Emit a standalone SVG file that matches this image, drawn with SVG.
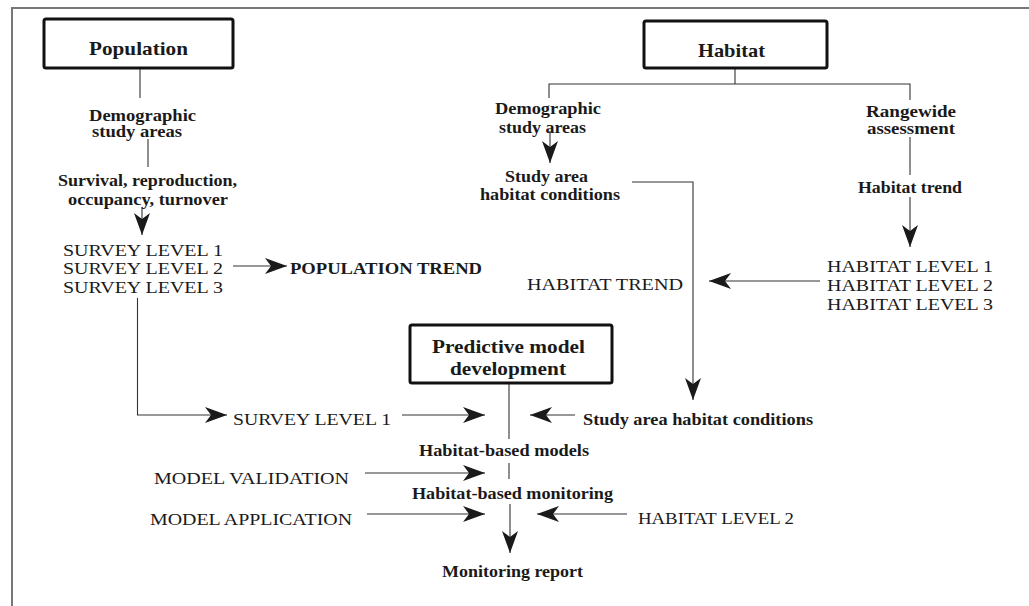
<svg xmlns="http://www.w3.org/2000/svg" width="1029" height="606" viewBox="0 0 1029 606">
<defs>
<marker id="ah" markerUnits="userSpaceOnUse" markerWidth="23" markerHeight="17" refX="22" refY="8" orient="auto" viewBox="0 0 23 17">
<path d="M0,0 L22,8 L0,16 L6,8 Z" fill="#1a1a1a"/>
</marker>
</defs>
<style>
text{font-family:"Liberation Serif",serif;fill:#1a1a1a}
.t{font-size:19px;font-weight:bold}
.m{font-size:16px;font-weight:bold}
.c{font-size:16px}
.cb{font-size:16px;font-weight:bold}
.box{fill:#fff;stroke:#111;stroke-width:3}
.ln{fill:none;stroke:#333;stroke-width:1.1}
.ar{fill:none;stroke:#333;stroke-width:1.1;marker-end:url(#ah)}
</style>
<rect width="1029" height="606" fill="#fff"/>
<path d="M12,606 V8 H1029" fill="none" stroke="#777" stroke-width="2"/>

<g id="connectors">
<path class="ln" d="M140,68 V98"/>
<path class="ln" d="M148,139 V167"/>
<path class="ar" d="M142,207 V235"/>
<path class="ar" d="M233,266 H287"/>
<path class="ar" d="M137.5,298 V415 H227"/>
<path class="ar" d="M402,415 H485"/>
<path class="ar" d="M575,415 H530"/>
<path class="ln" d="M509,383 V439"/>
<path class="ln" d="M509,463 V479"/>
<path class="ar" d="M510,504 V553"/>
<path class="ar" d="M365,473 H485"/>
<path class="ar" d="M367,514 H485"/>
<path class="ar" d="M627,514 H537"/>
<path class="ln" d="M735,68 V84 M549,98 V84 H910 V100"/>
<path class="ar" d="M550,131 V163"/>
<path class="ar" d="M632,182 H693 V400"/>
<path class="ln" d="M910,137 V175"/>
<path class="ar" d="M910,197 V247"/>
<path class="ar" d="M820,281 H709"/>
</g>

<g id="population">
<rect class="box" x="44" y="19" width="189" height="49" rx="2"/>
<text class="t" x="89" y="55" textLength="99" lengthAdjust="spacingAndGlyphs">Population</text>
</g>
<g id="habitat">
<rect class="box" x="644" y="21" width="183" height="47" rx="2"/>
<text class="t" x="698" y="57" textLength="67" lengthAdjust="spacingAndGlyphs">Habitat</text>
</g>
<g id="predictive">
<rect class="box" x="410" y="325" width="202" height="58" rx="2"/>
<text class="t" x="432" y="353" textLength="153" lengthAdjust="spacingAndGlyphs">Predictive model</text>
<text class="t" x="450" y="375" textLength="116" lengthAdjust="spacingAndGlyphs">development</text>
</g>

<g id="pop-demographic">
<text class="m" x="89" y="121" textLength="107" lengthAdjust="spacingAndGlyphs">Demographic</text>
<text class="m" x="92" y="137" textLength="90" lengthAdjust="spacingAndGlyphs">study areas</text>
</g>
<g id="survival">
<text class="m" x="58" y="186" textLength="179" lengthAdjust="spacingAndGlyphs">Survival, reproduction,</text>
<text class="m" x="68" y="205" textLength="160" lengthAdjust="spacingAndGlyphs">occupancy, turnover</text>
</g>
<g id="survey-levels">
<text class="c" x="63" y="256" textLength="160" lengthAdjust="spacingAndGlyphs">SURVEY LEVEL 1</text>
<text class="c" x="63" y="274" textLength="160" lengthAdjust="spacingAndGlyphs">SURVEY LEVEL 2</text>
<text class="c" x="63" y="293" textLength="160" lengthAdjust="spacingAndGlyphs">SURVEY LEVEL 3</text>
</g>
<g id="population-trend">
<text class="cb" x="290" y="274" textLength="192" lengthAdjust="spacingAndGlyphs">POPULATION TREND</text>
</g>
<g id="survey-level-1">
<text class="c" x="233" y="425" textLength="158" lengthAdjust="spacingAndGlyphs">SURVEY LEVEL 1</text>
</g>
<g id="habitat-models">
<text class="m" x="419" y="456" textLength="170" lengthAdjust="spacingAndGlyphs">Habitat-based models</text>
</g>
<g id="habitat-monitoring">
<text class="m" x="412" y="499" textLength="201" lengthAdjust="spacingAndGlyphs">Habitat-based monitoring</text>
</g>
<g id="monitoring-report">
<text class="m" x="442" y="577" textLength="141" lengthAdjust="spacingAndGlyphs">Monitoring report</text>
</g>
<g id="model-validation">
<text class="c" x="154" y="484" textLength="195" lengthAdjust="spacingAndGlyphs">MODEL VALIDATION</text>
</g>
<g id="model-application">
<text class="c" x="150" y="525" textLength="202" lengthAdjust="spacingAndGlyphs">MODEL APPLICATION</text>
</g>
<g id="study-area-conditions-2">
<text class="m" x="583" y="425" textLength="230" lengthAdjust="spacingAndGlyphs">Study area habitat conditions</text>
</g>
<g id="habitat-level-2b">
<text class="c" x="638" y="524" textLength="156" lengthAdjust="spacingAndGlyphs">HABITAT LEVEL 2</text>
</g>
<g id="hab-demographic">
<text class="m" x="495" y="114" textLength="106" lengthAdjust="spacingAndGlyphs">Demographic</text>
<text class="m" x="499" y="133" textLength="87" lengthAdjust="spacingAndGlyphs">study areas</text>
</g>
<g id="study-area-conditions">
<text class="m" x="505" y="182" textLength="83" lengthAdjust="spacingAndGlyphs">Study area</text>
<text class="m" x="480" y="200" textLength="140" lengthAdjust="spacingAndGlyphs">habitat conditions</text>
</g>
<g id="rangewide">
<text class="m" x="866" y="117" textLength="90" lengthAdjust="spacingAndGlyphs">Rangewide</text>
<text class="m" x="867" y="134" textLength="88" lengthAdjust="spacingAndGlyphs">assessment</text>
</g>
<g id="habitat-trend-lc">
<text class="m" x="858" y="193" textLength="104" lengthAdjust="spacingAndGlyphs">Habitat trend</text>
</g>
<g id="habitat-levels">
<text class="c" x="827" y="272" textLength="166" lengthAdjust="spacingAndGlyphs">HABITAT LEVEL 1</text>
<text class="c" x="827" y="291" textLength="166" lengthAdjust="spacingAndGlyphs">HABITAT LEVEL 2</text>
<text class="c" x="827" y="310" textLength="166" lengthAdjust="spacingAndGlyphs">HABITAT LEVEL 3</text>
</g>
<g id="habitat-trend">
<text class="c" x="527" y="290" textLength="156" lengthAdjust="spacingAndGlyphs">HABITAT TREND</text>
</g>
</svg>
